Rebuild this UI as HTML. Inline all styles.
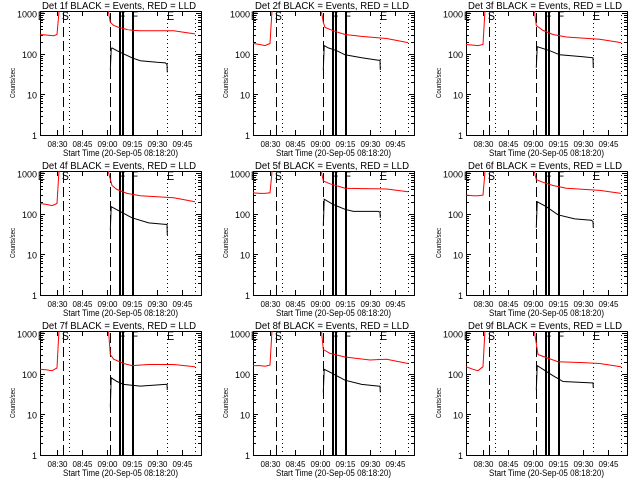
<!DOCTYPE html>
<html><head><meta charset="utf-8"><style>
html,body{margin:0;padding:0;background:#fff;}
svg{display:block;font-family:"Liberation Sans",sans-serif;}
</style></head><body>
<svg id="c" width="640" height="480"></svg>
<script>
const tickLabels=["08:30","08:45","09:00","09:15","09:30","09:45"];
const tickMinutes=[30,45,60,75,90,105];
const yTicks=[1,10,100,1000];
const detNames=["1f","2f","3f","4f","5f","6f","7f","8f","9f"];
const dashedLines=[33.6,61.8];
const dottedLines=[37.4,96.0,112.8];
const thickLines=[67.8,69.6,75.6];
const markerLabels=["E","S","F","F","E"];
const markerTimes=[20.6,35.0,69.0,76.6,98.2];
const redT=[[19.8,24,28,30,31,32,60.5,61,62,64,67,72,76,80,100,108,112.8],
[19.8,24,27,30,31,32,60.5,61,62,63,68,75,85,100,112.8],
[19.8,24,27,30,31,32,60.5,61,62,66,72,80,100,112.8],
[19.8,24,27,30,31,32,60.5,61,63,66,72,80,100,112.8],
[19.8,24,27,30,31,32,60.5,61,62,66,75,85,100,112.8],
[19.8,24,27,30,31,32,60.5,61,62,66,72,80,100,112.8],
[19.8,24,27,30,31,32,60.5,61,62,64,70,75,85,100,112.8],
[19.8,24,27,30,31,32,60.5,61,62,66,75,90,100,112.8],
[19.8,24,27,30,31,32,60.5,61,63,66,75,90,100,112.8]];
const redV=[[300,290,280,300,900,3000,3000,1000,600,500,450,400,380,370,370,330,310],
[180,170,160,180,900,3000,3000,1000,600,450,370,300,270,240,190],
[170,165,160,170,900,3000,3000,1000,500,380,300,260,230,190],
[180,170,160,180,900,3000,3000,1000,500,400,320,280,250,200],
[330,320,320,330,900,3000,3000,1000,650,550,430,420,410,350],
[290,280,280,290,900,3000,3000,1000,700,600,500,430,380,320],
[130,125,120,140,900,3000,3000,1000,300,230,180,160,170,170,150],
[160,160,155,165,900,3000,3000,1000,400,320,260,220,230,180],
[150,130,120,150,900,3000,3000,1000,300,270,200,190,180,150]];
const blackT=[[62,62.5,63,66,70,75,80,90,95,96,96.2],
[62,62.5,65,70,75,85,95,96,96.2],
[62,62.5,70,76,90,96,96.2],
[62,62.5,67,75,85,95,96,96.2],
[62,62.5,68,75,80,95,96,96.2],
[62,62.5,68,75,85,95,96,96.2],
[62,62.5,66,70,80,95,96,96.2],
[62,62.5,66,75,85,95,96,96.2],
[62,62.5,66,72,78,95,96,96.2]];
const blackV=[[40,130,140,120,100,80,68,62,60,55,35],
[40,160,140,120,95,80,70,70,40],
[45,150,120,95,85,80,45],
[40,150,120,80,60,55,55,30],
[50,230,170,130,115,115,110,80],
[45,200,150,95,75,70,65,45],
[15,80,65,55,50,55,55,40],
[35,130,110,70,55,50,50,35],
[40,160,130,90,65,60,60,45]];

const NS="http://www.w3.org/2000/svg";
const svg=document.getElementById('c');
const T0=19.8,T1=116.4,PW=161,PH=124,LTOP=3.057;
function mk(tag,at,parent){const e=document.createElementNS(NS,tag);for(const k in at)e.setAttribute(k,at[k]);(parent||svg).appendChild(e);return e;}
for(let p=0;p<9;p++){
  const col=p%3,row=Math.floor(p/3);
  const X0=40+col*213,Y0=11+row*160;
  const g=mk('g',{});
  
  
  const cp=mk('clipPath',{id:'cp'+p},g);
  mk('rect',{x:X0,y:Y0,width:PW,height:PH},cp);
  const xs=t=>X0+(t-T0)/(T1-T0)*PW;
  const ys=v=>Y0+PH*(1-Math.log10(Math.max(v,0.5))/LTOP);
  const t=mk('text',{x:X0+2,y:Y0-2,'font-size':'10',textLength:'154',lengthAdjust:'spacingAndGlyphs'},g);
  t.textContent='Det '+detNames[p]+' BLACK = Events, RED = LLD';
  
  
  const fr=mk('rect',{x:X0+0.5,y:Y0+0.5,width:PW,height:PH,fill:'none',stroke:'#000'},g);
  
  
  for(let d=0;d<4;d++){
    for(let m=1;m<10;m++){
      const v=yTicks[d]*m;if(Math.log10(v)>LTOP)continue;
      const y=Math.round(ys(v))+0.5,L=m===1?5:3;
      mk('line',{x1:X0,x2:X0+L,y1:y,y2:y,stroke:'#000'},g);
      mk('line',{x1:X0+PW-L,x2:X0+PW,y1:y,y2:y,stroke:'#000'},g);
    }
    const yl=mk('text',{x:X0-3,y:ys(yTicks[d])+4,'text-anchor':'end','font-size':'9'},g);
    yl.textContent=String(yTicks[d]);
    
    
  }
  const yt=mk('text',{x:0,y:0,'text-anchor':'middle','font-size':'7',textLength:'30',lengthAdjust:'spacingAndGlyphs',transform:`translate(${X0-25},${Y0+PH/2+10}) rotate(-90)`},g);
  yt.textContent='Counts/sec';
  
  
  for(let i=0;i<tickMinutes.length;i++){
    const x=Math.round(xs(tickMinutes[i]))+0.5;
    mk('line',{x1:x,x2:x,y1:Y0+PH,y2:Y0+PH-5,stroke:'#000'},g);
    mk('line',{x1:x,x2:x,y1:Y0,y2:Y0+5,stroke:'#000'},g);
    const xl=mk('text',{x:x-10,y:Y0+PH+12,'font-size':'8',textLength:'20',lengthAdjust:'spacingAndGlyphs'},g);
    xl.textContent=tickLabels[i];
    
    
  }
  const xt=mk('text',{x:X0+23,y:Y0+PH+21,'font-size':'9',textLength:'115',lengthAdjust:'spacingAndGlyphs'},g);
  xt.textContent='Start Time (20-Sep-05 08:18:20)';
  
  
  const inner=mk('g',{'clip-path':`url(#cp${p})`},g);
  for(const tm of dashedLines){const x=Math.round(xs(tm))+0.5;const l=mk('line',{x1:x,x2:x,y1:Y0+PH,y2:Y0,stroke:'#000','stroke-dasharray':'10,4'},inner);}
  for(const tm of dottedLines){const x=Math.round(xs(tm))+0.5;const l=mk('line',{x1:x,x2:x,y1:Y0,y2:Y0+PH,stroke:'#000','stroke-dasharray':'1,3'},inner);}
  for(const tm of thickLines){const x=Math.round(xs(tm));const l=mk('line',{x1:x,x2:x,y1:Y0,y2:Y0+PH,stroke:'#000','stroke-width':'2'},inner);}
  const rp=mk('polyline',{fill:'none',stroke:'#ff0000','stroke-width':'1',points:redT[p].map((tm,i)=>xs(tm).toFixed(1)+','+ys(redV[p][i]).toFixed(1)).join(' ')},inner);
  
  
  const bp=mk('polyline',{fill:'none',stroke:'#000','stroke-width':'1',points:blackT[p].map((tm,i)=>xs(tm).toFixed(1)+','+ys(blackV[p][i]).toFixed(1)).join(' ')},inner);
  
  
  for(let i=0;i<markerLabels.length;i++){
    const ml=mk('text',{x:xs(markerTimes[i]),y:Y0+9,'text-anchor':'middle','font-size':'12',textLength:'7',lengthAdjust:'spacingAndGlyphs'},g);
    ml.textContent=markerLabels[i];
    
    
  }
}
</script>
</body></html>
